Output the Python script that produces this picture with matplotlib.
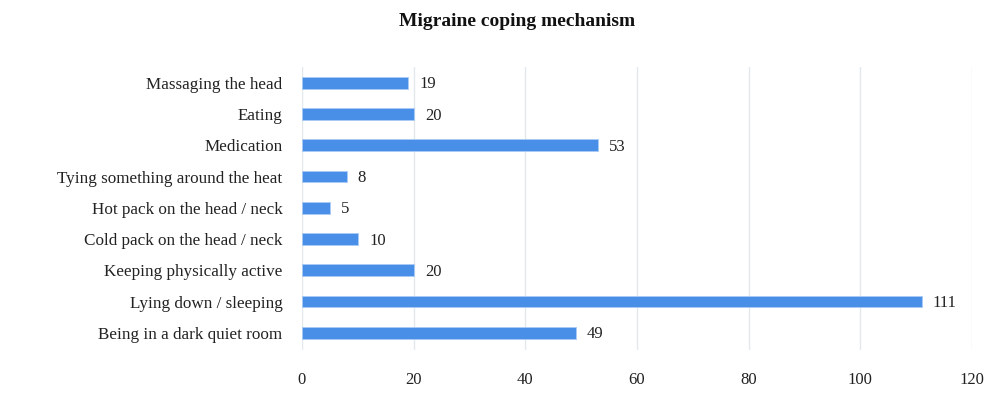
import matplotlib.pyplot as plt

categories = [
    "Being in a dark quiet room",
    "Lying down / sleeping",
    "Keeping physically active",
    "Cold pack on the head / neck",
    "Hot pack on the head / neck",
    "Tying something around the heat",
    "Medication",
    "Eating",
    "Massaging the head",
]
counts = [49, 111, 20, 10, 5, 8, 53, 20, 19]
x_ticks = [0, 20, 40, 60, 80, 100, 120]

plt.rcParams['font.family'] = ['Liberation Serif', 'DejaVu Serif']

fig = plt.figure(figsize=(10, 3.95), dpi=100)
ax = fig.add_axes([0.302, 0.114, 0.670, 0.716])

y = range(len(categories))
bars = ax.barh(y, counts, height=0.38, color='#4A8FE7', edgecolor='#A9CBF5', linewidth=0.6, zorder=3)
for b, v in zip(bars, counts):
    ax.text(b.get_width() + 2, b.get_y() + b.get_height() / 2 - 0.05, str(v),
            va='center', ha='left', fontsize=12, color='#222222')

ax.set_yticks(list(y))
ax.set_yticklabels(categories, fontsize=12.3, color='#222222')
ax.set_xticks(x_ticks)
ax.set_xticklabels([str(t) for t in x_ticks], fontsize=12, color='#222222')
ax.set_xlim(0, 120)
ax.set_ylim(-0.55, 8.5)

ax.grid(axis='x', color='#E2E8EB', linewidth=1.0, zorder=0)
for s in ax.spines.values():
    s.set_visible(False)
ax.tick_params(axis='both', length=0)
ax.tick_params(axis='y', pad=14)
ax.tick_params(axis='x', pad=16)

fig.text(0.517, 0.945, "Migraine coping mechanism", ha='center', va='center',
         fontsize=14, fontweight='bold', color='#111111')

fig.savefig('out.png', dpi=100, facecolor='white')
